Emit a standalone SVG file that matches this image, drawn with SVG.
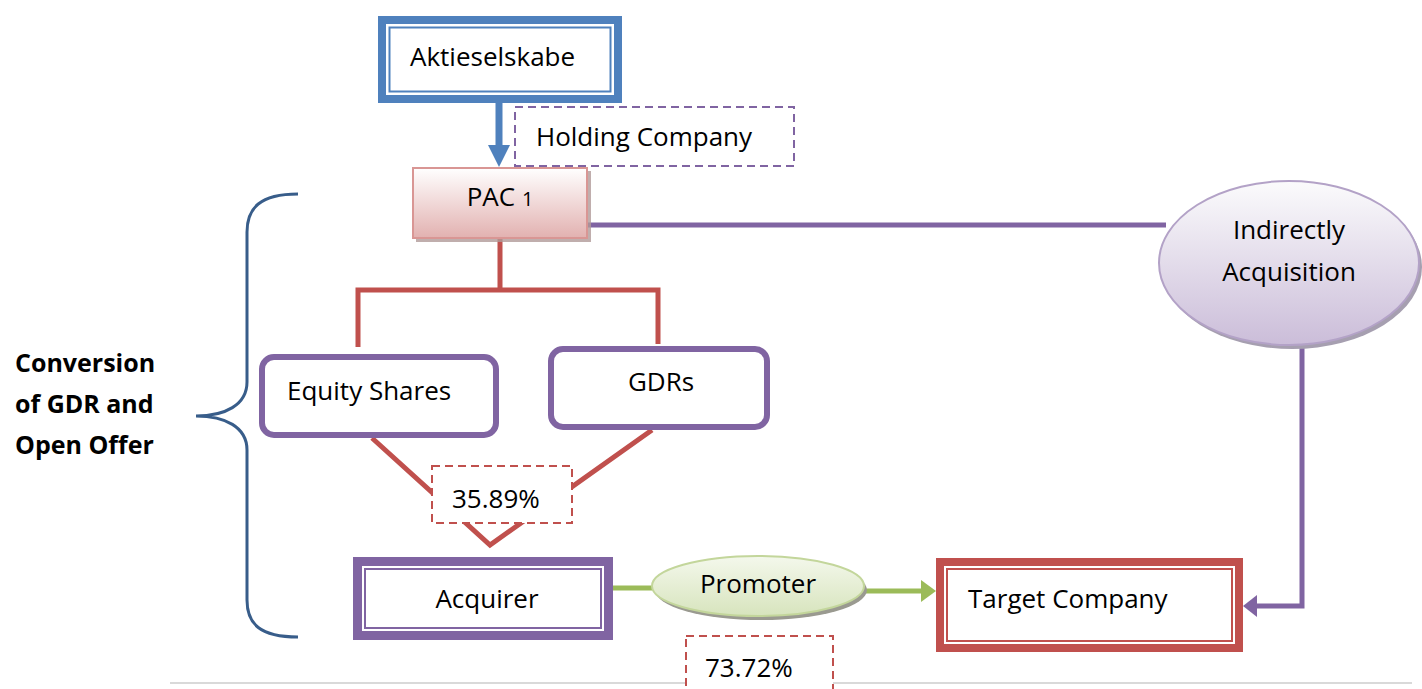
<svg xmlns="http://www.w3.org/2000/svg" width="1422" height="689" viewBox="0 0 1422 689">
  <style>
    text { font-family: "Open Sans", "Noto Sans", "Liberation Sans", sans-serif; font-size: 26px; fill: #000; }
    .bold { font-weight: bold; font-size: 25px; }
    .mid { text-anchor: middle; }
    .dash-red { fill: #fff; stroke: #c0504d; stroke-width: 2; stroke-dasharray: 8 5; }
    .dash-purple { fill: #fff; stroke: #8064a2; stroke-width: 2; stroke-dasharray: 8 5; }
    .round-box { fill: #fff; stroke: #8064a2; stroke-width: 6; }
    .red-line { fill: none; stroke: #c0504d; stroke-width: 5; }
    .purple-line { fill: none; stroke: #8064a2; stroke-width: 5; }
    .green-line { fill: none; stroke: #9bbb59; stroke-width: 5; }
  </style>
  <defs>
    <linearGradient id="gradPink" x1="0" y1="0" x2="0" y2="1">
      <stop offset="0" stop-color="#ffffff"/>
      <stop offset="1" stop-color="#e2b1b0"/>
    </linearGradient>
    <linearGradient id="gradLilac" x1="0" y1="0" x2="0" y2="1">
      <stop offset="0" stop-color="#fbfbfc"/>
      <stop offset="1" stop-color="#cbbdd9"/>
    </linearGradient>
    <linearGradient id="gradGreen" x1="0" y1="0" x2="0" y2="1">
      <stop offset="0" stop-color="#f4f8ec"/>
      <stop offset="1" stop-color="#d7e4bd"/>
    </linearGradient>
  </defs>

  <!-- footer rule -->
  <line x1="170" y1="683" x2="1412" y2="683" stroke="#d9d9d9" stroke-width="2"/>

  <!-- connectors -->
  <g id="connectors">
    <!-- Aktieselskabe to PAC 1 -->
    <line x1="499" y1="103" x2="499" y2="148" stroke="#4f81bd" stroke-width="7"/>
    <polygon points="488,145 510,145 499,167" fill="#4f81bd"/>
    <!-- PAC 1 branches -->
    <path class="red-line" d="M500,238 V290 M358,347 V290 H658 V344"/>
    <!-- funnel into 35.89% -->
    <path class="red-line" d="M372,438 L490,545 L652,430"/>
    <!-- PAC 1 to Indirectly Acquisition -->
    <line class="purple-line" x1="587" y1="225" x2="1166" y2="225"/>
    <!-- Indirectly Acquisition to Target Company -->
    <path class="purple-line" d="M1302,344 V606 H1255"/>
    <polygon points="1243,606 1257,595 1257,617" fill="#8064a2"/>
    <!-- Acquirer to Promoter to Target Company -->
    <line class="green-line" x1="613" y1="588" x2="654" y2="588"/>
    <line class="green-line" x1="864" y1="591" x2="923" y2="591"/>
    <polygon points="936,591 921,580 921,602" fill="#9bbb59"/>
  </g>

  <!-- brace -->
  <g id="brace">
    <path d="M298,194 C260,194 247,208 247,232 L247,382 C247,405 225,416 196,416 C225,416 247,427 247,450 L247,600 C247,624 260,637 298,637" fill="none" stroke="#385d8a" stroke-width="3"/>
    <text class="bold" x="15" y="372">Conversion</text>
    <text class="bold" x="15" y="413">of GDR and</text>
    <text class="bold" x="15" y="454">Open Offer</text>
  </g>

  <g id="aktieselskabe">
    <rect x="382" y="20" width="236" height="79" fill="#fff" stroke="#4f81bd" stroke-width="8"/>
    <rect x="389.5" y="27.5" width="221" height="64" fill="none" stroke="#4f81bd" stroke-width="2"/>
    <text x="410" y="66">Aktieselskabe</text>
  </g>

  <g id="holding-company">
    <rect class="dash-purple" x="515" y="107" width="279" height="59"/>
    <text x="536" y="146">Holding Company</text>
  </g>

  <g id="pac1">
    <rect x="416" y="171" width="175" height="71" fill="#b09a98" opacity="0.8"/>
    <rect x="413" y="168" width="174" height="70" fill="url(#gradPink)" stroke="#d99694" stroke-width="2"/>
    <text class="mid" x="500" y="206">PAC <tspan font-size="20">1</tspan></text>
  </g>

  <g id="indirectly-acquisition">
    <ellipse cx="1292" cy="267" rx="130" ry="82" fill="#a69fb0"/>
    <ellipse cx="1289" cy="263" rx="130" ry="82" fill="url(#gradLilac)" stroke="#b3a2c7" stroke-width="2"/>
    <text class="mid" x="1289" y="239">Indirectly</text>
    <text class="mid" x="1289" y="281">Acquisition</text>
  </g>

  <g id="equity-shares">
    <rect class="round-box" x="262" y="357" width="234" height="78" rx="12"/>
    <text x="287" y="400">Equity Shares</text>
  </g>

  <g id="gdrs">
    <rect class="round-box" x="551" y="349" width="216" height="78" rx="12"/>
    <text class="mid" x="661" y="391">GDRs</text>
  </g>

  <g id="pct-3589">
    <rect class="dash-red" x="432" y="466" width="140" height="57"/>
    <text x="452" y="508">35.89%</text>
  </g>

  <g id="acquirer">
    <rect x="357.5" y="561.5" width="251" height="74" fill="#fff" stroke="#8064a2" stroke-width="9"/>
    <rect x="365" y="569" width="236" height="59" fill="none" stroke="#8064a2" stroke-width="2"/>
    <text class="mid" x="487" y="608">Acquirer</text>
  </g>

  <g id="promoter">
    <ellipse cx="761" cy="590" rx="106" ry="30" fill="#9a9a90"/>
    <ellipse cx="758" cy="586" rx="106" ry="30" fill="url(#gradGreen)" stroke="#c3d69b" stroke-width="2"/>
    <text class="mid" x="758" y="593">Promoter</text>
  </g>

  <g id="target-company">
    <rect x="940" y="562" width="299" height="86" fill="#fff" stroke="#c0504d" stroke-width="8"/>
    <rect x="947" y="569" width="285" height="72" fill="none" stroke="#c0504d" stroke-width="2"/>
    <text x="968" y="608">Target Company</text>
  </g>

  <g id="pct-7372">
    <rect class="dash-red" x="686" y="636" width="147" height="60"/>
    <text x="705" y="677">73.72%</text>
  </g>
</svg>
